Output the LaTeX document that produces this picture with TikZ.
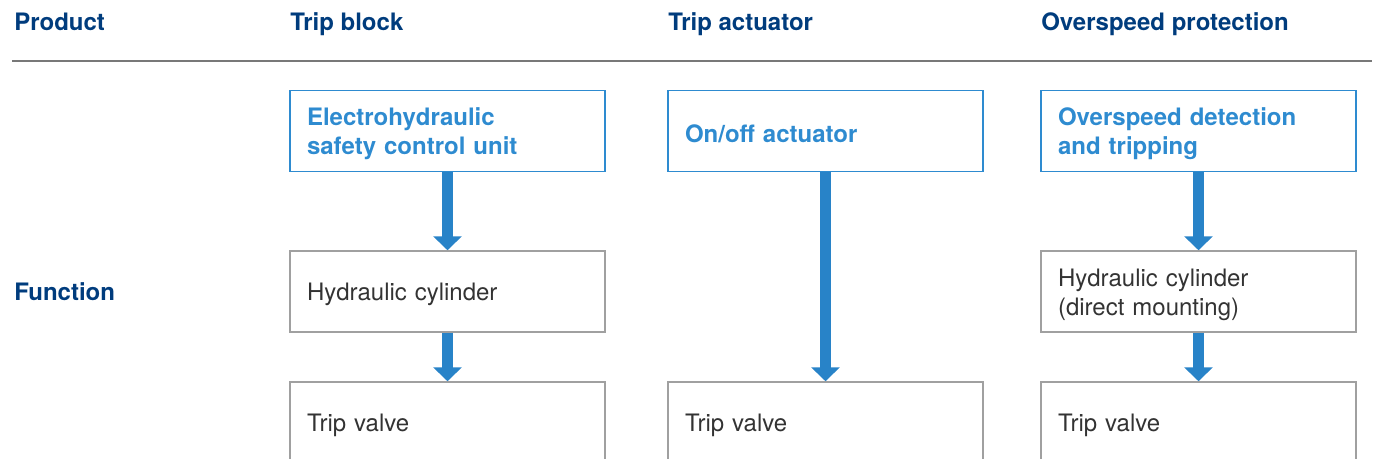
\documentclass[tikz,border=0pt]{standalone}
\usepackage{fontspec}
\setmainfont{TeX Gyre Heros}
\usetikzlibrary{arrows.meta}
\definecolor{headblue}{RGB}{0,60,125}
\definecolor{boxblue}{RGB}{46,139,208}
\definecolor{flowblue}{RGB}{40,131,200}
\definecolor{boxgray}{RGB}{160,160,160}
\definecolor{bodygray}{RGB}{51,51,51}
\definecolor{rulegray}{RGB}{120,120,120}
\begin{document}
\begin{tikzpicture}[x=0.75pt, y=-0.75pt,
	head/.style={anchor=base west, inner sep=0pt, text=headblue, font=\bfseries\fontsize{18}{20}\selectfont},
	unit/.style={rectangle, minimum width=236.25pt, minimum height=60.75pt, text width=210.75pt, inner xsep=12.75pt, align=left, execute at begin node={\rule{0pt}{18pt}}, font=\fontsize{18}{21.75}\selectfont},
	topbox/.style={unit, draw=boxblue, line width=1.1pt, text=boxblue, font=\bfseries\fontsize{18}{21.75}\selectfont},
	subbox/.style={unit, draw=boxgray, line width=1.1pt, text=bodygray},
	flow/.style={draw=flowblue, line width=8.25pt, -{Triangle[width=21pt, length=10.5pt]}, flowblue}
	]
	    \useasboundingbox (0,0) rectangle (1375,459);
	    \clip (0,0) rectangle (1375,459);
	    
	    % header row
	    \node [head] (product) at (14,31) {Product};
	    \node [head] (block) at (290,31) {Trip block};
	    \node [head] (actuator) at (668,31) {Trip actuator};
	    \node [head] (overspeed) at (1041,31) {Overspeed protection};
	    \draw [draw=rulegray, line width=1.1pt] (12,61) -- (1372,61);
	    
	    \node [head, anchor=west] (function) at (14,292) {Function};
	    
	    % trip block
	    \node [topbox] (ehunit) at (447.5,131) {Electrohydraulic\\safety control unit};
	    \node [subbox] (cyla) at (447.5,291.5) {Hydraulic cylinder};
	    \node [subbox] (valvea) at (447.5,422.5) {Trip valve};
	    
	    % trip actuator
	    \node [topbox] (onoff) at (825.5,131) {On/off actuator};
	    \node [subbox] (valveb) at (825.5,422.5) {Trip valve};
	    
	    % overspeed protection
	    \node [topbox] (detect) at (1198.5,131) {Overspeed detection\\and tripping};
	    \node [subbox] (cylc) at (1198.5,291.5) {Hydraulic cylinder\\(direct mounting)};
	    \node [subbox] (valvec) at (1198.5,422.5) {Trip valve};
	    
	    \draw [flow] (ehunit.south) -- (cyla.north);
	    \draw [flow] (cyla.south) -- (valvea.north);
	    \draw [flow] (onoff.south) -- (valveb.north);
	    \draw [flow] (detect.south) -- (cylc.north);
	    \draw [flow] (cylc.south) -- (valvec.north);
	\end{tikzpicture}
\end{document}
